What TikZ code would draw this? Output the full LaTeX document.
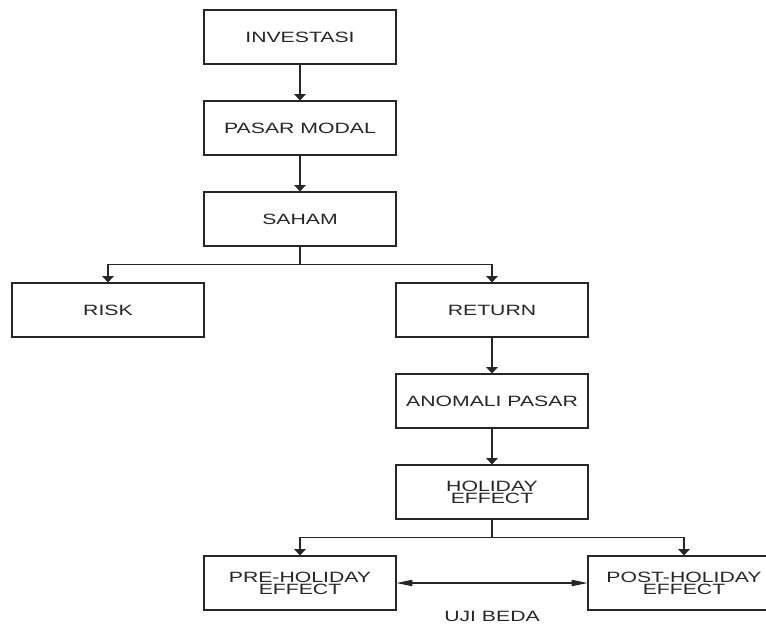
\documentclass[tikz,border=0pt]{standalone}
\usepackage{fontspec}
\setmainfont{Liberation Sans}[FakeStretch=1.42]
\usepackage{xcolor}
\usepackage{tikz}
\usetikzlibrary{arrows.meta}

\begin{document}
\begin{tikzpicture}[node distance=1.82cm,
    kotak/.style={rectangle, draw=black!85, line width=0.6pt, minimum width=3.84cm, minimum height=1.08cm,
        align=center, text=black!85, font=\fontsize{8.5}{7}\selectfont},
    panah/.style={-{Triangle[width=6.5pt,length=3.6pt]}, line width=0.6pt, draw=black!85},
    dua/.style={{Triangle[width=3.6pt,length=9pt]}-{Triangle[width=3.6pt,length=9pt]}, line width=0.6pt, draw=black!85}]
    \useasboundingbox (-6.0,0.74) rectangle (9.32,-11.78);
    % Alur utama
    \node (investasi) [kotak] {INVESTASI};
    \node (pasar) [kotak, below of=investasi] {PASAR MODAL};
    \node (saham) [kotak, below of=pasar] {SAHAM};
    
    % Cabang saham
    \node (risk) [kotak, below of=saham, xshift=-3.84cm] {RISK};
    \node (return) [kotak, below of=saham, xshift=3.84cm] {RETURN};
    \node (anomali) [kotak, below of=return] {ANOMALI PASAR};
    \node (holiday) [kotak, below of=anomali] {HOLIDAY\\EFFECT};
    
    % Cabang holiday
    \node (pre) [kotak, below of=holiday, xshift=-3.84cm] {PRE-HOLIDAY\\EFFECT};
    \node (post) [kotak, below of=holiday, xshift=3.84cm] {POST-HOLIDAY\\EFFECT};
    \node (ujibeda) [below of=holiday, node distance=2.48cm, text=black!85, font=\fontsize{8.5}{7}\selectfont] {UJI BEDA};
    
    % Panah
    \draw[panah] (investasi) -- (pasar);
    \draw[panah] (pasar) -- (saham);
    \draw[panah] (saham.south) -- ++(0,-0.35) -| (risk.north);
    \draw[panah] (saham.south) -- ++(0,-0.35) -| (return.north);
    \draw[panah] (return) -- (anomali);
    \draw[panah] (anomali) -- (holiday);
    \draw[panah] (holiday.south) -- ++(0,-0.35) -| (pre.north);
    \draw[panah] (holiday.south) -- ++(0,-0.35) -| (post.north);
    \draw[dua] (pre) -- (post);
\end{tikzpicture}
\end{document}
